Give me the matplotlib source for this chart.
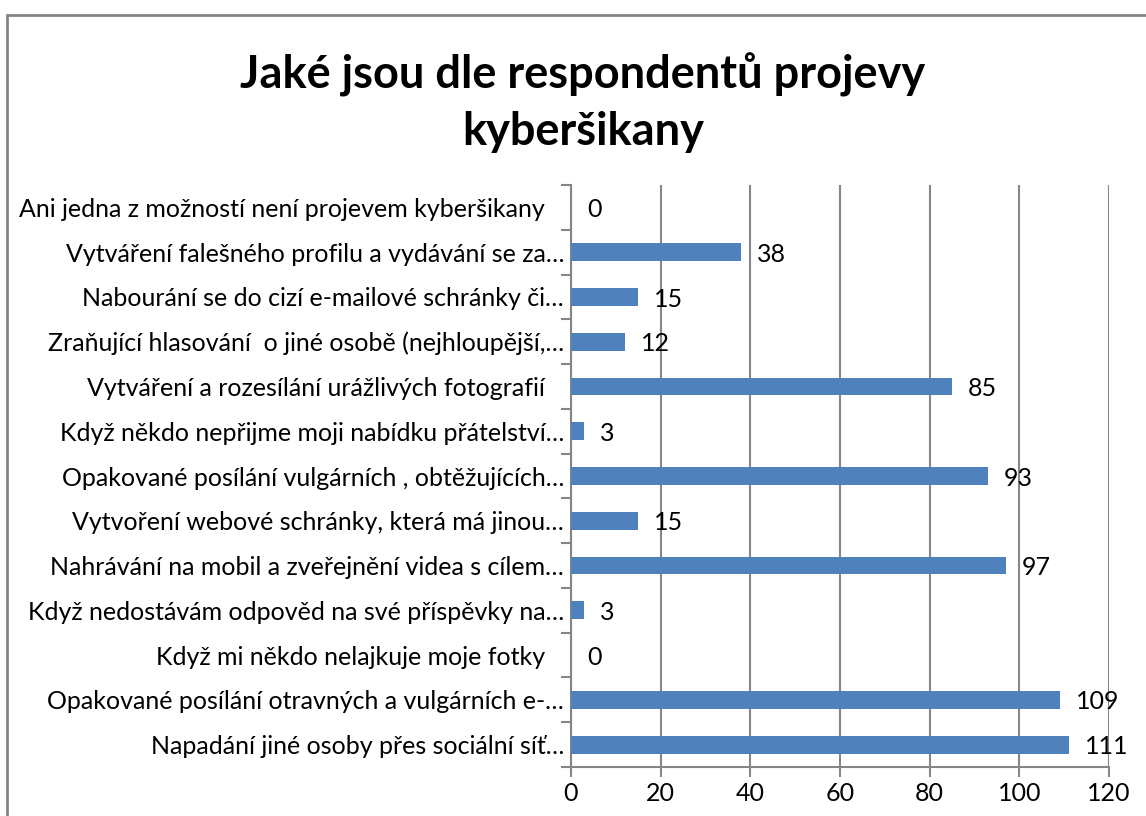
import matplotlib.pyplot as plt
from matplotlib.patches import Rectangle

plt.rcParams['font.family'] = ['Lato', 'DejaVu Sans']

categories = [
    "Ani jedna z možností není projevem kyberšikany   ",
    "Vytváření falešného profilu a vydávání se za…",
    "Nabourání se do cizí e-mailové schránky či…",
    "Zraňující hlasování  o jiné osobě (nejhloupější,…",
    "Vytváření a rozesílání urážlivých fotografií   ",
    "Když někdo nepřijme moji nabídku přátelství…",
    "Opakované posílání vulgárních , obtěžujících…",
    "Vytvoření webové schránky, která má jinou…",
    "Nahrávání na mobil a zveřejnění videa s cílem…",
    "Když nedostávám odpověd na své příspěvky na…",
    "Když mi někdo nelajkuje moje fotky   ",
    "Opakované posílání otravných a vulgárních e-…",
    "Napadání jiné osoby přes sociální síť…",
]
values = [0, 38, 15, 12, 85, 3, 93, 15, 97, 3, 0, 109, 111]
xticks = [0, 20, 40, 60, 80, 100, 120]

bar_color = "#4F81BD"
grid_color = "#868686"

fig = plt.figure(figsize=(11.46, 8.16), dpi=100)
ax = fig.add_axes([571/1146, 1-767/816, (1109-571)/1146, (767-185)/816])

n = len(categories)
ypos = [n - 1 - i for i in range(n)]
ax.barh(ypos, values, height=0.4, color=bar_color, zorder=3)

for y, v in zip(ypos, values):
    ax.annotate(str(v), (v, y), xytext=(11.5, -1.5), textcoords="offset points",
                ha="left", va="center", fontsize=18, color="black", zorder=4)

ax.set_xlim(0, 120)
ax.set_ylim(-0.5, n - 0.5)
ax.set_xticks(xticks)
ax.set_xticklabels([str(t) for t in xticks])
ax.set_yticks(ypos)
ax.set_yticklabels(categories)
ax.set_yticks([k - 0.5 for k in range(n + 1)], minor=True)
ax.tick_params(axis="y", which="major", length=0, pad=5, labelsize=18)
ax.tick_params(axis="y", which="minor", length=7, width=1.5, color=grid_color, direction="out")
ax.tick_params(axis="x", length=7, width=1.5, color=grid_color, direction="out", labelsize=18, pad=4)

ax.grid(axis="x", color=grid_color, linewidth=1.5, zorder=0)
for s in ["top", "right"]:
    ax.spines[s].set_visible(False)
for s in ["left", "bottom"]:
    ax.spines[s].set_color(grid_color)
    ax.spines[s].set_linewidth(1.5)

fig.text(583/1146, 1-103/816, "Jaké jsou dle respondentů projevy\nkyberšikany",
         ha="center", va="center", fontsize=32.5, fontweight="bold", linespacing=1.4)

fig.patches.append(Rectangle((7/1146, -0.1), 1.2, 1.1 - 15/816, transform=fig.transFigure,
                             fill=False, edgecolor=grid_color, linewidth=2))

fig.savefig("out.png", dpi=100)
